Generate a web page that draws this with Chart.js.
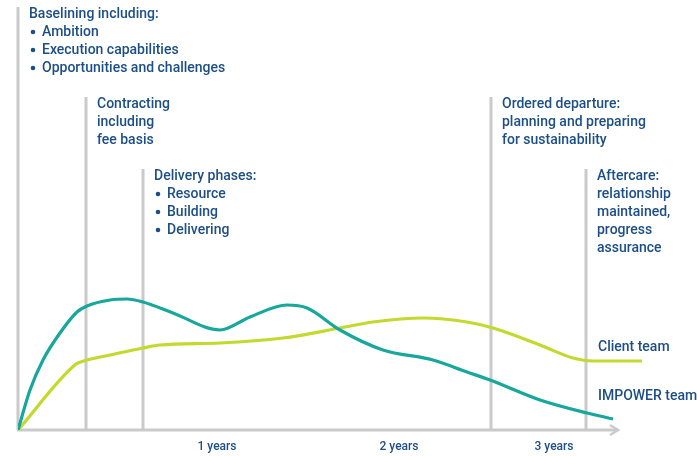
<!DOCTYPE html>
<html>
<head>
<meta charset="utf-8">
<script src="https://cdn.jsdelivr.net/npm/chart.js@4/dist/chart.umd.min.js"></script>
<style>
  html, body { margin: 0; padding: 0; background: #fff; }
  #wrap { width: 697px; height: 456px; position: relative; }
</style>
</head>
<body>
<div id="wrap"><canvas id="phases"></canvas></div>
<script>
// curves, x / y in chart units (x from origin, y up from axis)
const impowerX = [0, 12, 25, 42, 59, 69, 92, 109, 125, 155, 202, 232, 269, 289, 322, 365, 415, 449, 472, 522, 569, 595]
const impowerY = [0, 40, 70, 97, 118, 124, 130, 131, 128, 117, 100, 113, 125, 122, 100, 80, 70, 58, 50, 30, 17, 11]
const clientX = [0, 58, 60, 69, 92, 125, 142, 202, 265, 322, 355, 405, 449, 475, 522, 555, 575, 624]
const clientY = [0, 66, 67, 70, 75, 82, 85, 87, 92, 102, 108, 112, 108, 102, 85, 72, 69, 69]

// phase markers
const phaseX = [0, 68, 125, 473, 568]
const phaseTop = [423, 333, 261, 333, 261]
const phaseText = [
  ['Baselining including:', '• Ambition', '• Execution capabilities', '• Opportunities and challenges'],
  ['Contracting', 'including', 'fee basis'],
  ['Delivery phases:', '• Resource', '• Building', '• Delivering'],
  ['Ordered departure:', 'planning and preparing', 'for sustainability'],
  ['Aftercare:', 'relationship', 'maintained,', 'progress', 'assurance']
]

const tickX = [199, 381, 536]
const tickLabels = ['1 years', '2 years', '3 years']
const seriesNames = ['IMPOWER team', 'Client team']
const seriesLabelY = [34, 83]

const blue = '#1d4f86'
const grey = '#cacaca'
const teal = '#17a79b'
const lime = '#c2d92e'
const font = '500 14px Roboto, "Open Sans", sans-serif'

const toPoints = (xs, ys) => xs.map((x, i) => ({x: x, y: ys[i]}))

const decor = {
  id: 'decor',
  beforeDatasetsDraw(chart) {
    const ctx = chart.ctx
    const xs = chart.scales.x, ys = chart.scales.y
    const y0 = ys.getPixelForValue(0)
    ctx.save()
    ctx.strokeStyle = grey
    ctx.lineWidth = 3
    phaseX.forEach((px, i) => {
      const x = xs.getPixelForValue(px)
      ctx.beginPath()
      ctx.moveTo(x, ys.getPixelForValue(phaseTop[i]))
      ctx.lineTo(x, y0)
      ctx.stroke()
    })
    // x axis with arrow
    const xEnd = xs.getPixelForValue(600)
    ctx.beginPath()
    ctx.moveTo(xs.getPixelForValue(0) - 1, y0)
    ctx.lineTo(xEnd, y0)
    ctx.stroke()
    ctx.lineWidth = 2.5
    ctx.beginPath()
    ctx.moveTo(xEnd - 8, y0 - 5)
    ctx.lineTo(xEnd, y0)
    ctx.lineTo(xEnd - 8, y0 + 5)
    ctx.stroke()

    ctx.fillStyle = blue
    ctx.textBaseline = 'middle'
    phaseText.forEach((lines, i) => {
      const x = xs.getPixelForValue(phaseX[i]) + 11
      const top = ys.getPixelForValue(phaseTop[i]) + 7
      lines.forEach((t, j) => {
        let tx = x
        if (t.startsWith('• ')) {
          ctx.beginPath()
          ctx.arc(x + 4, top + j * 18, 2.3, 0, Math.PI * 2)
          ctx.fill()
          t = t.slice(2)
          tx = x + 13
        }
        ctx.font = font
        ctx.fillText(t, tx, top + j * 18)
      })
    })
    ctx.font = '500 12px Roboto, "Open Sans", sans-serif'
    ctx.textAlign = 'center'
    tickX.forEach((v, i) => ctx.fillText(tickLabels[i], xs.getPixelForValue(v), y0 + 17))
    ctx.textAlign = 'left'
    ctx.font = font
    seriesNames.forEach((n, i) => ctx.fillText(n, xs.getPixelForValue(580), ys.getPixelForValue(seriesLabelY[i])))
    ctx.restore()
  }
}

const phasesChart = new Chart(document.getElementById('phases'), {
  type: 'line',
  data: {
    datasets: [{
      label: seriesNames[0],
      data: toPoints(impowerX, impowerY),
      borderColor: teal,
      borderWidth: 3.2,
      cubicInterpolationMode: 'monotone',
      pointRadius: 0
    }, {
      label: seriesNames[1],
      data: toPoints(clientX, clientY),
      borderColor: lime,
      borderWidth: 3.2,
      cubicInterpolationMode: 'monotone',
      pointRadius: 0
    }]
  },
  options: {
    responsive: true,
    maintainAspectRatio: false,
    animation: false,
    layout: { padding: { left: 18, right: 0, top: 0, bottom: 26 } },
    plugins: { legend: { display: false }, tooltip: { enabled: false } },
    scales: {
      x: { type: 'linear', display: false, min: 0, max: 679 },
      y: { display: false, min: 0, max: 430 }
    }
  },
  plugins: [decor]
})
</script>
</body>
</html>
